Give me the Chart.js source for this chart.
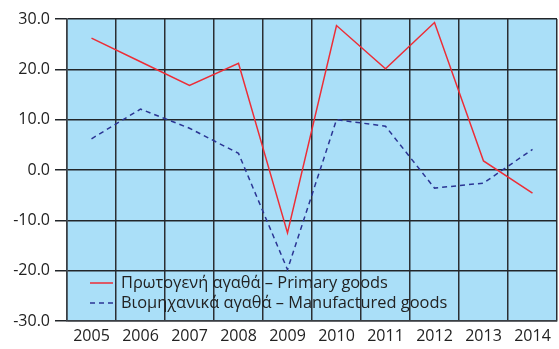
<!DOCTYPE html>
<html>
<head>
<meta charset="utf-8">
<script src="https://cdn.jsdelivr.net/npm/chart.js@4/dist/chart.umd.min.js"></script>
<style>
  html, body { margin: 0; padding: 0; background: #fff; }
  #wrap { width: 559px; height: 349px; }
</style>
</head>
<body>
<div id="wrap"><canvas id="chart" width="559" height="349"></canvas></div>
<script>
const years = ["2005", "2006", "2007", "2008", "2009", "2010", "2011", "2012", "2013", "2014"];
const primaryGoods = [26.2, 21.5, 16.8, 21.2, -12.5, 28.7, 20.1, 29.3, 1.8, -4.6];
const manufacturedGoods = [6.2, 12.1, 8.3, 3.3, -19.8, 10.0, 8.7, -3.6, -2.6, 4.1];
const yTicks = [30, 20, 10, 0, -10, -20, -30];

const primaryLabel = "Πρωτογενή αγαθά – Primary goods";
const manufacturedLabel = "Βιομηχανικά αγαθά – Manufactured goods";

const FONT = "'Open Sans', 'DejaVu Sans', sans-serif";

// light blue plot background
const plotBg = {
    id: "plotBg",
    beforeDraw(chart) {
        const { ctx, chartArea: a } = chart;
        ctx.save();
        ctx.fillStyle = "#aadff8";
        ctx.fillRect(a.left, a.top, a.right - a.left, a.bottom - a.top);
        ctx.restore();
    }
};

// legend sits inside the plot, lower left
const innerLegend = {
    id: "innerLegend",
    afterDatasetsDraw(chart) {
        const { ctx, chartArea: a } = chart;
        const x0 = a.left + 23;
        const rows = chart.data.datasets.map((ds, i) => ({ ds, y: a.bottom - 38 + i * 20 }));
        ctx.save();
        ctx.font = "16.4px " + FONT;
        ctx.textBaseline = "middle";
        rows.forEach(({ ds, y }) => {
            ctx.strokeStyle = ds.borderColor;
            ctx.lineWidth = ds.borderWidth;
            ctx.setLineDash(ds.borderDash || []);
            ctx.beginPath();
            ctx.moveTo(x0, y);
            ctx.lineTo(x0 + 23, y);
            ctx.stroke();
            ctx.setLineDash([]);
            ctx.fillStyle = "#222";
            ctx.fillText(ds.label, x0 + 31, y);
        });
        ctx.restore();
    }
};

new Chart(document.getElementById("chart").getContext("2d"), {
    type: "line",
    data: {
        labels: years,
        datasets: [{
            label: primaryLabel,
            data: primaryGoods,
            borderColor: "#ed2d36",
            borderWidth: 1.5,
            pointRadius: 0,
            tension: 0,
            fill: false
        }, {
            label: manufacturedLabel,
            data: manufacturedGoods,
            borderColor: "#2b3594",
            borderWidth: 1.5,
            borderDash: [5, 4],
            pointRadius: 0,
            tension: 0,
            fill: false
        }]
    },
    options: {
        responsive: false,
        animation: false,
        layout: { padding: { top: 19, right: 2, left: 0, bottom: 0 } },
        plugins: {
            legend: { display: false },
            tooltip: { enabled: false }
        },
        scales: {
            x: {
                offset: true,
                grid: {
                    offset: true,
                    color: "#2a2e33",
                    lineWidth: 1.5,
                    drawTicks: false
                },
                border: { color: "#3a3f44", width: 1.5 },
                ticks: {
                    color: "#222",
                    font: { family: FONT, size: 16 },
                    padding: 6,
                    maxRotation: 0
                },
                afterFit(scale) { scale.height = 28; }
            },
            y: {
                min: -30,
                max: 30,
                afterBuildTicks(scale) {
                    scale.ticks = yTicks.map(v => ({ value: v }));
                },
                grid: {
                    color: "#22262a",
                    lineWidth: 1.5,
                    tickLength: 12
                },
                border: { color: "#3a3f44", width: 1.5 },
                ticks: {
                    color: "#222",
                    font: { family: FONT, size: 16 },
                    padding: 5,
                    callback: v => v.toFixed(1)
                },
                afterFit(scale) { scale.width = 67; }
            }
        }
    },
    plugins: [plotBg, innerLegend]
});
</script>
</body>
</html>
